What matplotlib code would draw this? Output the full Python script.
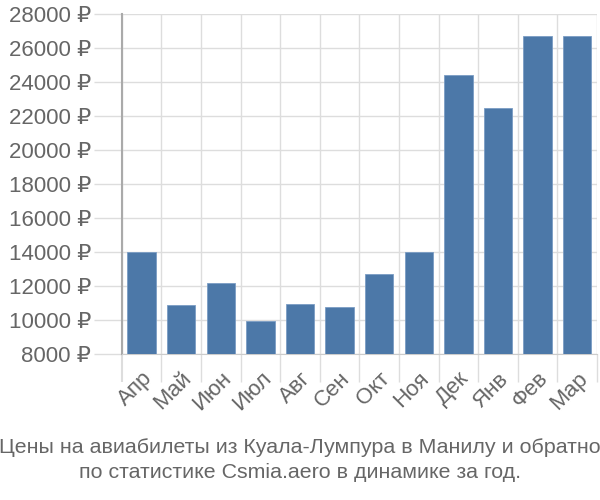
import numpy as np
import matplotlib.pyplot as plt

plt.rcParams['font.family'] = ['Liberation Sans', 'DejaVu Sans']

months = ['Апр', 'Май', 'Июн', 'Июл', 'Авг', 'Сен', 'Окт', 'Ноя', 'Дек', 'Янв', 'Фев', 'Мар']
prices = [14000, 10900, 12200, 9960, 10970, 10750, 12680, 13980, 24400, 22450, 26700, 26700]
yticks = list(range(8000, 28001, 2000))
title = 'Цены на авиабилеты из Куала-Лумпура в Манилу и обратно\nпо статистике Csmia.aero в динамике за год.'

fig = plt.figure(figsize=(6, 5), dpi=100)
ax = fig.add_axes([0.203, 0.292, 0.792, 0.680])

x = np.arange(len(months))
ax.bar(x, prices, width=0.72, color='#4c78a8', edgecolor='#7a9cc4', linewidth=0.6, zorder=3)

ax.set_xlim(-0.5, len(months) - 0.5)
ax.set_ylim(8000, 28000)

ax.set_yticks(yticks)
ax.set_yticklabels([f'{v} ₽' for v in yticks], fontsize=16, color='#666666')
ax.set_xticks(x)
ax.set_xticklabels(months, rotation=45, ha='right', rotation_mode='anchor', fontsize=16, color='#666666')
ax.set_xticks(np.arange(-0.5, len(months)), minor=True)

ax.tick_params(axis='x', which='major', length=0, pad=10)
ax.tick_params(axis='x', which='minor', length=20, color='#dddddd', width=1)
ax.tick_params(axis='y', length=20, color='#dddddd', width=1, pad=2)
ax.xaxis.get_minor_ticks()[0].tick1line.set_color('#aaaaaa')
ax.xaxis.get_minor_ticks()[0].tick1line.set_markeredgewidth(1.5)

ax.grid(axis='y', color='#dddddd', linewidth=1, zorder=0)
ax.grid(axis='x', which='minor', color='#dddddd', linewidth=1, zorder=0)

for s in ['top', 'right']:
    ax.spines[s].set_visible(False)
ax.spines['bottom'].set_color('#cccccc')
ax.spines['left'].set_color('#aaaaaa')
ax.spines['left'].set_linewidth(1.5)

fig.text(0.5, 0.08, title, ha='center', va='center', fontsize=15.4, color='#666666', linespacing=1.35)

fig.savefig('out.png', dpi=100)
